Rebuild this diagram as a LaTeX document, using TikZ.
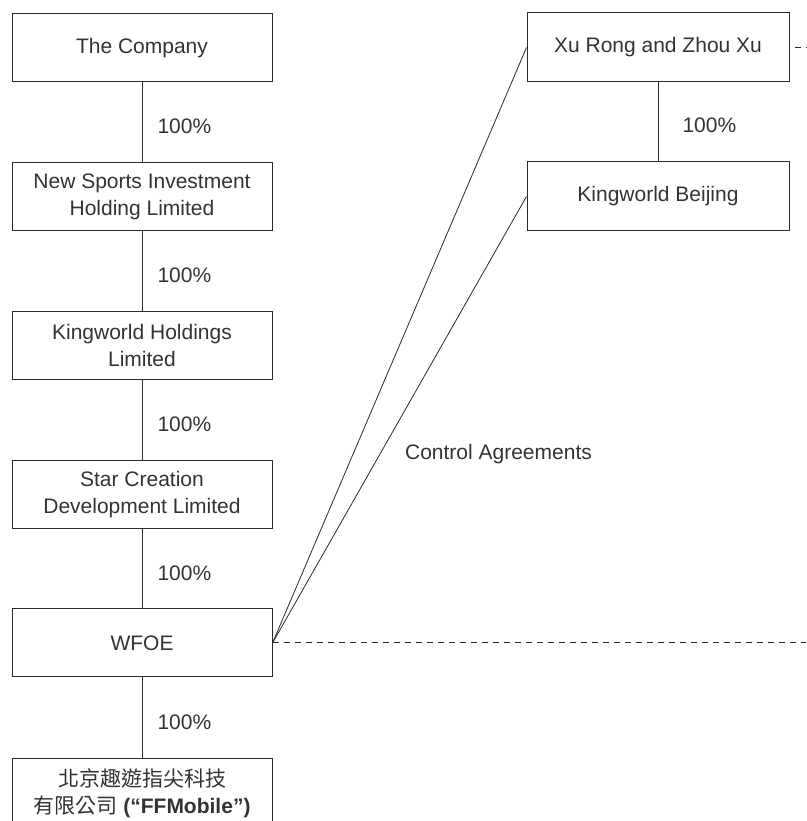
\documentclass[tikz,border=0pt]{standalone}
\usepackage{fontspec}
\setmainfont{Liberation Sans}
\newfontfamily\cjkfont{Noto Sans CJK TC}
\usetikzlibrary{positioning, calc}
\definecolor{inkgray}{HTML}{333333}
\definecolor{linegray}{HTML}{2A2A2A}

\tikzset{
  box/.style={draw=linegray, line width=1pt, minimum width=260pt, minimum height=68pt,
    align=center, inner sep=0pt, text=inkgray, font=\fontsize{21}{27}\selectfont},
  pct/.style={right, inner sep=0pt, text=inkgray, font=\fontsize{21}{27}\selectfont},
  link/.style={draw=linegray, line width=1pt},
  dashlink/.style={draw=linegray, line width=1pt, dash pattern=on 6pt off 5pt}
}

\begin{document}
\begin{tikzpicture}[x=1pt, y=1pt]
  \useasboundingbox (0,0) rectangle (806,821);

  % Ownership chain
  \node[box] (company) at (142, 773) {The Company};
  \node[box] (newsports) at (142, 624.5) {New Sports Investment\\Holding Limited};
  \node[box] (kwholdings) at (142, 475.5) {Kingworld Holdings\\Limited};
  \node[box] (starcreation) at (142, 326) {Star Creation\\Development Limited};
  \node[box] (wfoe) at (142, 178) {WFOE};
  \node[box] (ffmobile) at (142, 28) {{\cjkfont 北京趣遊指尖科技}\\{\cjkfont 有限公司} \textbf{(“FFMobile”)}};

  % Domestic side
  \node[box, minimum width=262pt, minimum height=69pt] (xurong) at (658, 773.5) {Xu Rong and Zhou Xu};
  \node[box, minimum width=262pt, minimum height=69pt] (kwbeijing) at (658, 624.5) {Kingworld Beijing};

  % Links
  \draw[link] (company) -- node[pct, xshift=15pt, yshift=-4pt] {100\%} (newsports);
  \draw[link] (newsports) -- node[pct, xshift=15pt, yshift=-4pt] {100\%} (kwholdings);
  \draw[link] (kwholdings) -- node[pct, xshift=15pt, yshift=-4pt] {100\%} (starcreation);
  \draw[link] (starcreation) -- node[pct, xshift=15pt, yshift=-4pt] {100\%} (wfoe);
  \draw[link] (wfoe) -- node[pct, xshift=15pt, yshift=-4pt] {100\%} (ffmobile);
  \draw[link] (xurong) -- node[pct, xshift=24pt, yshift=-3pt] {100\%} (kwbeijing);

  % Control agreements
  \draw[link, line width=0.8pt] (wfoe.east) -- (xurong.west);
  \draw[link, line width=0.8pt] (wfoe.east) -- (kwbeijing.west);
  \node[pct, anchor=center] (ctrl) at (498.5, 367) {Control Agreements};

  % Dashed edges
  \coordinate (wfoeend) at (806, 178);
  \coordinate (xurongend) at (806, 773.5);
  \draw[dashlink] (wfoe.east) -- (wfoeend);
  \draw[dashlink, dash phase=6pt] (xurong.east) -- (xurongend);

\end{tikzpicture}
\end{document}
